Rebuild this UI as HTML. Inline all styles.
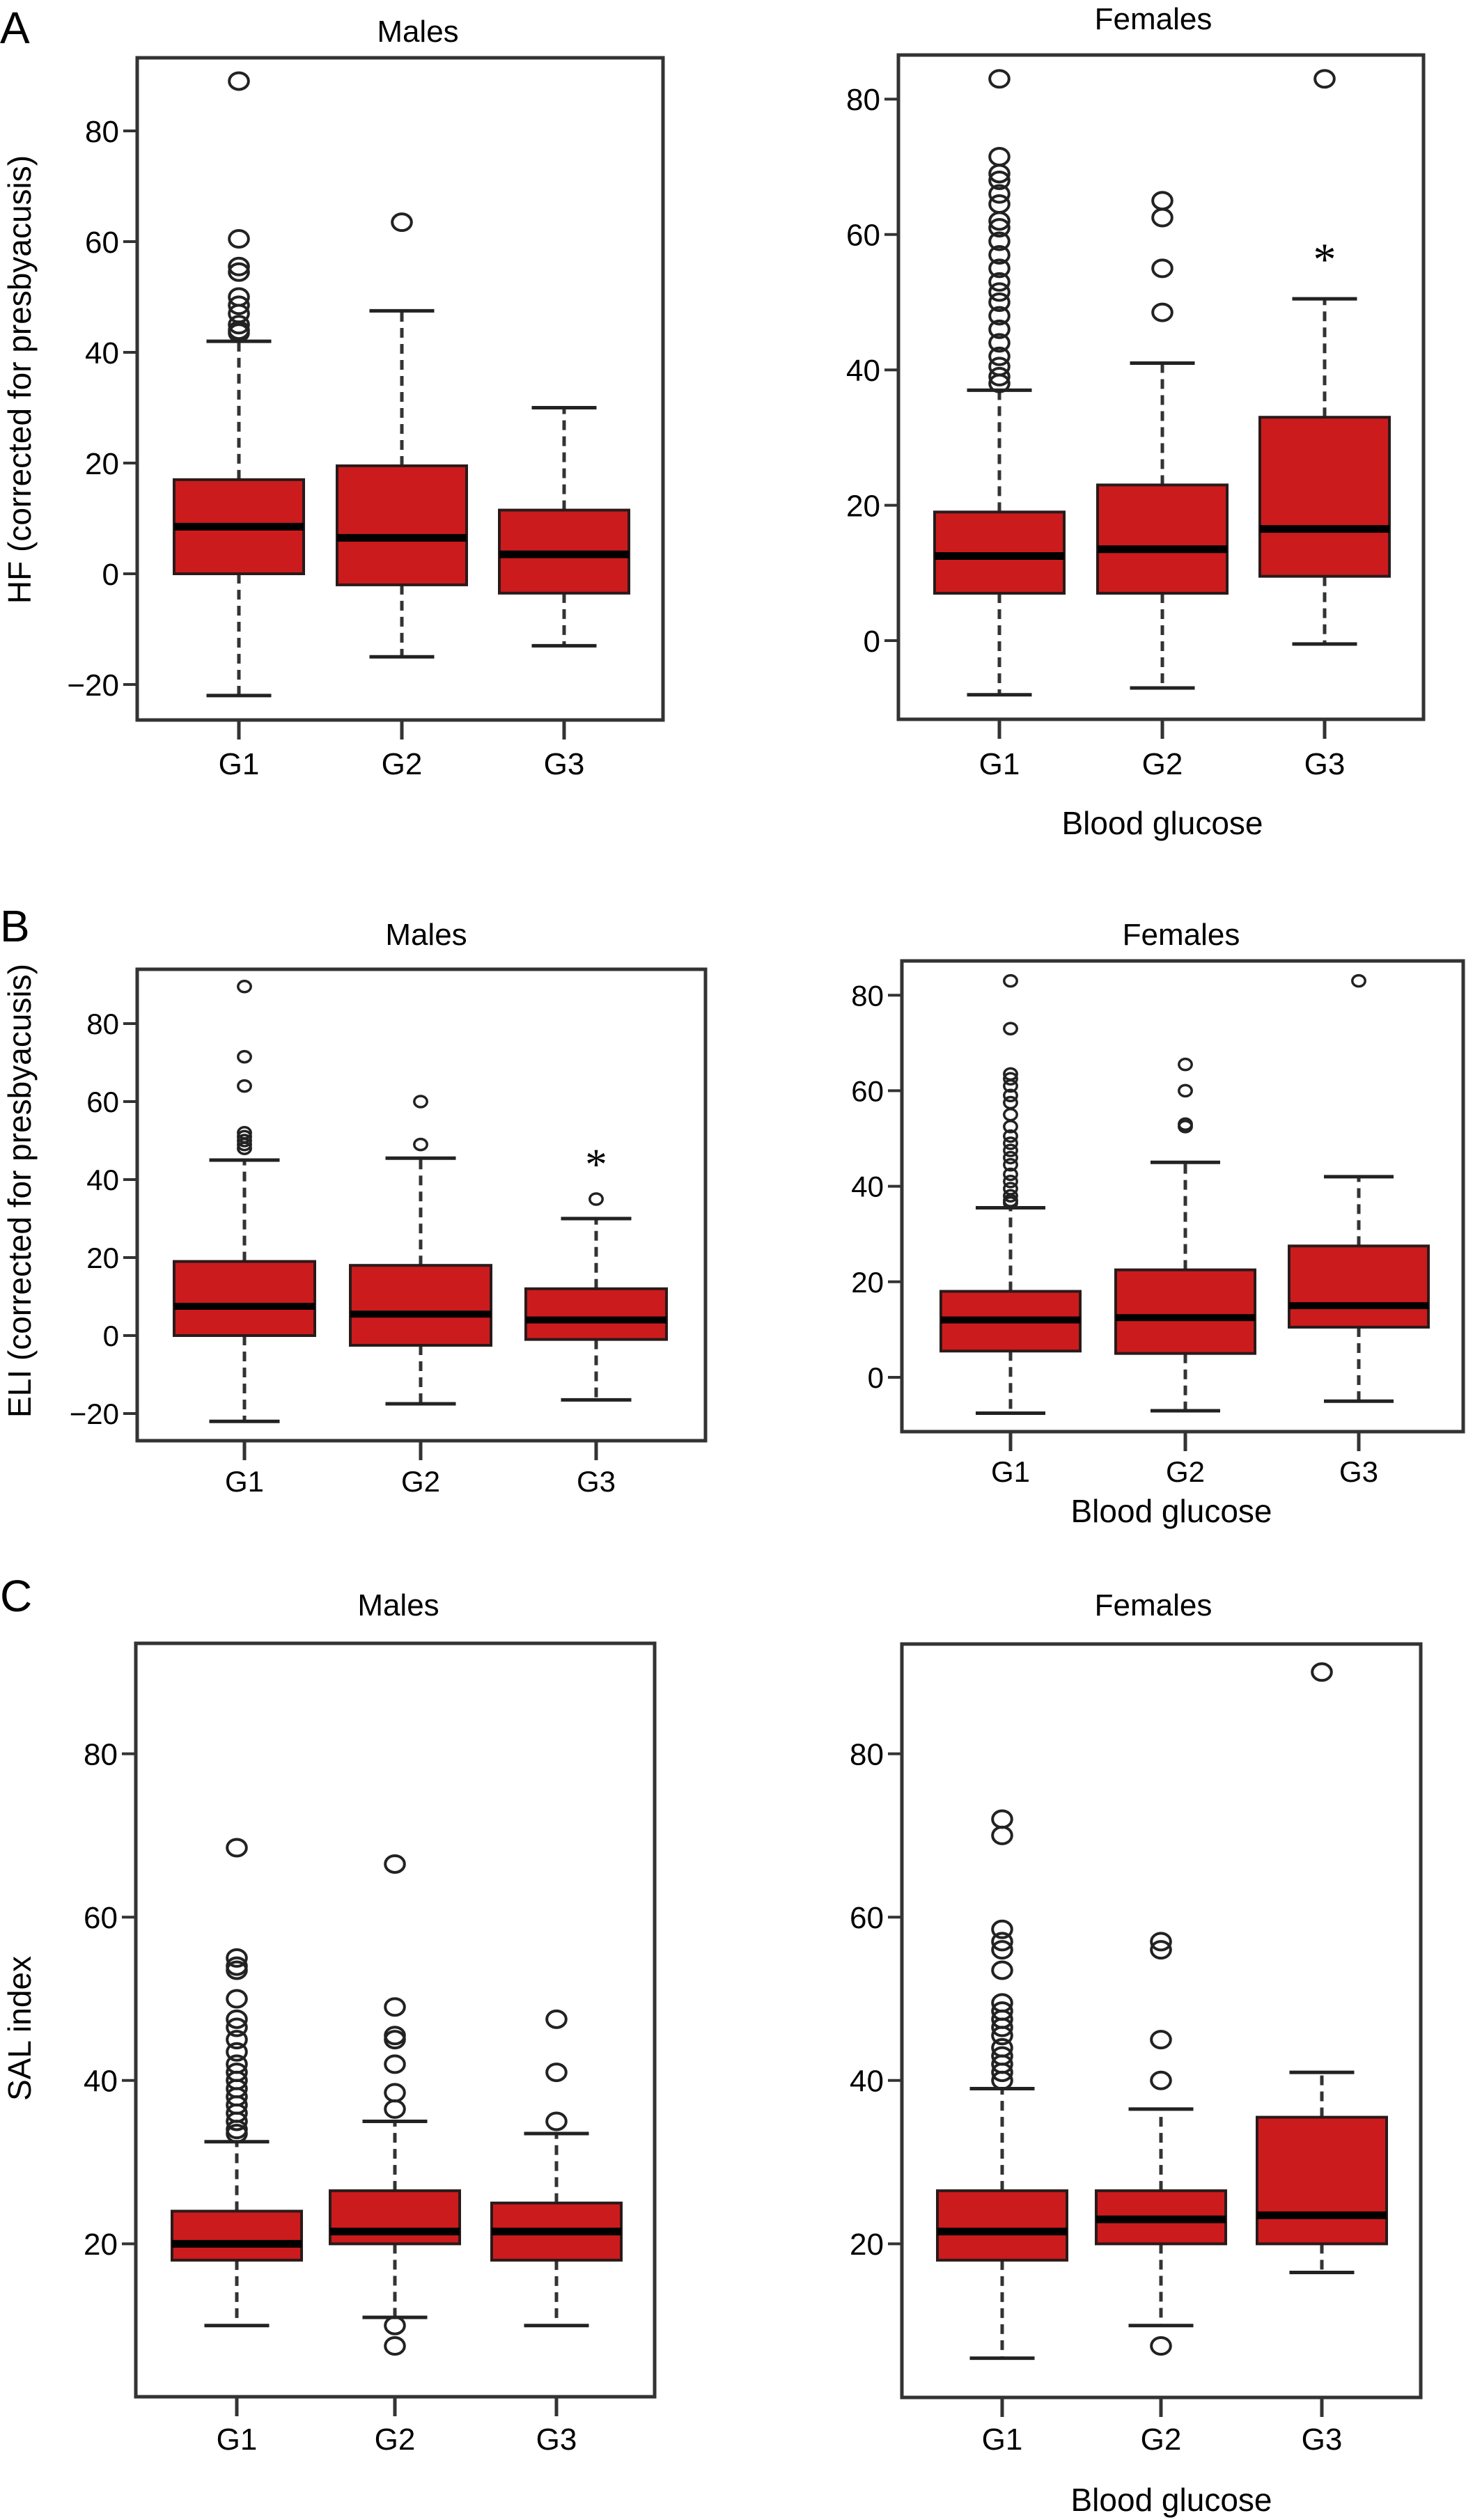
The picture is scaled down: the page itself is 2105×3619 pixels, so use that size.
<!DOCTYPE html>
<html><head><meta charset="utf-8"><style>
html,body{margin:0;padding:0;background:#fff;}
svg{display:block;font-family:"Liberation Sans",Arial,sans-serif;}
</style></head><body>
<svg id="fig" width="2105" height="3619" viewBox="0 0 2105 3619" xmlns="http://www.w3.org/2000/svg">
<text x="0" y="62" font-size="64">A</text>
<text x="0" y="1352" font-size="64">B</text>
<text x="0" y="2314" font-size="64">C</text>
<text transform="translate(44,545) rotate(-90)" text-anchor="middle" font-size="46">HF (corrected for presbyacusis)</text>
<text transform="translate(44,1710) rotate(-90)" text-anchor="middle" font-size="46">ELI (corrected for presbyacusis)</text>
<text transform="translate(44,2913) rotate(-90)" text-anchor="middle" font-size="46">SAL index</text>
<text x="1669" y="1198" text-anchor="middle" font-size="46">Blood glucose</text>
<text x="1682" y="2186" text-anchor="middle" font-size="46">Blood glucose</text>
<text x="1682" y="3606" text-anchor="middle" font-size="46">Blood glucose</text>
</svg>
<script>
const categories = ["G1","G2","G3"];
// Panel A males
const aM_lo=[-22,-15,-13], aM_q1=[0,-2,-3.5], aM_med=[8.5,6.5,3.5], aM_q3=[17,19.5,11.5], aM_hi=[42,47.5,30];
const aM_out=[[89,60.5,55.5,54.5,50,48.5,47,45,44,43.5],[63.5],[]];
const aM_ticks=[-20,0,20,40,60,80];
// Panel A females
const aF_lo=[-8,-7,-0.5], aF_q1=[7,7,9.5], aF_med=[12.5,13.5,16.5], aF_q3=[19,23,33], aF_hi=[37,41,50.5];
const aF_out=[[83,71.5,69,68,66,64.5,62,61,59,57,55,53,51.5,50,48,46,44,42,40.5,39,38],[65,62.5,55,48.5],[83]];
const aF_ticks=[0,20,40,60,80];
const aF_star=[null,null,57];
// Panel B males
const bM_lo=[-22,-17.5,-16.5], bM_q1=[0,-2.5,-1], bM_med=[7.5,5.5,4], bM_q3=[19,18,12], bM_hi=[45,45.5,30];
const bM_out=[[89.5,71.5,64,52,51,50,49,48],[60,49],[35]];
const bM_ticks=[-20,0,20,40,60,80];
const bM_star=[null,null,45];
// Panel B females
const bF_lo=[-7.5,-7,-5], bF_q1=[5.5,5,10.5], bF_med=[12,12.5,15], bF_q3=[18,22.5,27.5], bF_hi=[35.5,45,42];
const bF_out=[[83,73,63.5,62.5,61,59,57.5,55,52.5,50.5,49,47.5,46,44.5,42.5,41,39.5,38,37,36.5],[65.5,60,53,52.5],[83]];
const bF_ticks=[0,20,40,60,80];
// Panel C males
const cM_lo=[10,11,10], cM_q1=[18,20,18], cM_med=[20,21.5,21.5], cM_q3=[24,26.5,25], cM_hi=[32.5,35,33.5];
const cM_out=[[68.5,55,54,53.5,50,47.5,46.5,45,43.5,42,41,40,39,38,37,36,35,34,33.5],[66.5,49,45.5,45,42,38.5,36.5,10,7.5],[47.5,41,35]];
const cM_ticks=[20,40,60,80];
// Panel C females
const cF_lo=[6,10,16.5], cF_q1=[18,20,20], cF_med=[21.5,23,23.5], cF_q3=[26.5,26.5,35.5], cF_hi=[39,36.5,41];
const cF_out=[[72,70,58.5,57,56,53.5,49.5,48.5,47.5,46.5,45.5,44,43,42,41,40],[57,56,45,40,7.5],[90]];
const cF_ticks=[20,40,60,80];

const NS="http://www.w3.org/2000/svg";
const svg=document.getElementById('fig');
function mk(tag,attrs,parent){const e=document.createElementNS(NS,tag);for(const k in attrs)e.setAttribute(k,attrs[k]);(parent||svg).appendChild(e);return e;}

function panel(cfg){
  const g=mk('g',{});
  
  
  const y=v=>cfg.zero - v*cfg.ppu;
  const x=i=>cfg.xs[i];
  const t=mk('text',{x:cfg.titleX,y:cfg.titleY,'text-anchor':'middle','font-size':cfg.titleFs},g);
  t.textContent=cfg.title;
  
  
  cfg.ticks.forEach(v=>{
    const ln=mk('line',{x1:cfg.L-20,x2:cfg.L,y1:y(v),y2:y(v),stroke:'#333','stroke-width':4},g);
    
    
    const tx=mk('text',{x:cfg.L-26,y:y(v)+cfg.tickFs*0.36,'text-anchor':'end','font-size':cfg.tickFs},g);
    tx.textContent=(v<0?'\u2212'+(-v):String(v));
    
    
  });
  categories.forEach((c,i)=>{
    const ln=mk('line',{x1:x(i),x2:x(i),y1:cfg.B,y2:cfg.B+28,stroke:'#333','stroke-width':5},g);
    
    
    const tx=mk('text',{x:x(i),y:cfg.labY,'text-anchor':'middle','font-size':cfg.labFs},g);
    tx.textContent=c;
    
    
    const d=cfg.data;
    const hw=cfg.hw, cw=hw*0.5;
    const w1=mk('line',{x1:x(i),x2:x(i),y1:y(d.q3[i]),y2:y(d.hi[i]),stroke:'#333','stroke-width':5,'stroke-dasharray':'14 9'},g);
    
    
    const w2=mk('line',{x1:x(i),x2:x(i),y1:y(d.q1[i]),y2:y(d.lo[i]),stroke:'#333','stroke-width':5,'stroke-dasharray':'14 9'},g);
    
    
    const c1=mk('line',{x1:x(i)-cw,x2:x(i)+cw,y1:y(d.hi[i]),y2:y(d.hi[i]),stroke:'#222','stroke-width':5},g);
    
    
    const c2=mk('line',{x1:x(i)-cw,x2:x(i)+cw,y1:y(d.lo[i]),y2:y(d.lo[i]),stroke:'#222','stroke-width':5},g);
    
    
    const bx=mk('rect',{x:x(i)-hw,y:y(d.q3[i]),width:2*hw,height:y(d.q1[i])-y(d.q3[i]),fill:'#cc1b1d',stroke:'#2a1a1a','stroke-width':4},g);
    
    
    const md=mk('line',{x1:x(i)-hw,x2:x(i)+hw,y1:y(d.med[i]),y2:y(d.med[i]),stroke:'#000','stroke-width':cfg.medW},g);
    
    
    d.out[i].forEach(v=>{
      const o=mk('ellipse',{cx:x(i),cy:y(v),rx:cfg.r*1.15,ry:cfg.r,fill:'none',stroke:'#222','stroke-width':cfg.ow},g);
      
      
    });
    if(d.star && d.star[i]!=null){
      const s=mk('text',{x:x(i),y:y(d.star[i])+cfg.tickFs*0.65,'text-anchor':'middle','font-size':cfg.tickFs*1.5,'font-family':'Liberation Serif, serif'},g);
      s.textContent='*';
      
      
    }
  });
  const fr=mk('rect',{x:cfg.L,y:cfg.T,width:cfg.R-cfg.L,height:cfg.B-cfg.T,fill:'none',stroke:'#333','stroke-width':5},g);
  
  
}

panel({name:'panel-a-males',title:'Males',titleX:600,titleY:60,titleFs:44,L:197,R:952,T:83,B:1034,zero:824,ppu:7.95,xs:[343,577,810],hw:93,r:12,ow:4,medW:11,ticks:aM_ticks,tickFs:44,labY:1112,labFs:44,
  data:{lo:aM_lo,q1:aM_q1,med:aM_med,q3:aM_q3,hi:aM_hi,out:aM_out}});
panel({name:'panel-a-females',title:'Females',titleX:1656,titleY:42,titleFs:44,L:1290,R:2044,T:79,B:1033,zero:920,ppu:9.72,xs:[1435,1669,1902],hw:93,r:12,ow:4,medW:11,ticks:aF_ticks,tickFs:44,labY:1112,labFs:44,
  data:{lo:aF_lo,q1:aF_q1,med:aF_med,q3:aF_q3,hi:aF_hi,out:aF_out,star:aF_star}});
panel({name:'panel-b-males',title:'Males',titleX:612,titleY:1357,titleFs:44,L:197,R:1013,T:1392,B:2069,zero:1918,ppu:5.6,xs:[351,604,856],hw:101,r:8,ow:3.5,medW:10,ticks:bM_ticks,tickFs:42,labY:2142,labFs:42,
  data:{lo:bM_lo,q1:bM_q1,med:bM_med,q3:bM_q3,hi:bM_hi,out:bM_out,star:bM_star}});
panel({name:'panel-b-females',title:'Females',titleX:1696,titleY:1357,titleFs:44,L:1295,R:2101,T:1380,B:2056,zero:1978,ppu:6.86,xs:[1451,1702,1951],hw:100,r:8,ow:3.5,medW:10,ticks:bF_ticks,tickFs:42,labY:2128,labFs:42,
  data:{lo:bF_lo,q1:bF_q1,med:bF_med,q3:bF_q3,hi:bF_hi,out:bF_out}});
panel({name:'panel-c-males',title:'Males',titleX:572,titleY:2320,titleFs:44,L:195,R:940,T:2360,B:3442,zero:3457,ppu:11.73,xs:[340,567,799],hw:93,r:12,ow:4,medW:11,ticks:cM_ticks,tickFs:44,labY:3518,labFs:44,
  data:{lo:cM_lo,q1:cM_q1,med:cM_med,q3:cM_q3,hi:cM_hi,out:cM_out}});
panel({name:'panel-c-females',title:'Females',titleX:1656,titleY:2320,titleFs:44,L:1295,R:2040,T:2361,B:3443,zero:3457,ppu:11.73,xs:[1439,1667,1898],hw:93,r:12,ow:4,medW:11,ticks:cF_ticks,tickFs:44,labY:3518,labFs:44,
  data:{lo:cF_lo,q1:cF_q1,med:cF_med,q3:cF_q3,hi:cF_hi,out:cF_out}});
</script>
</body></html>
